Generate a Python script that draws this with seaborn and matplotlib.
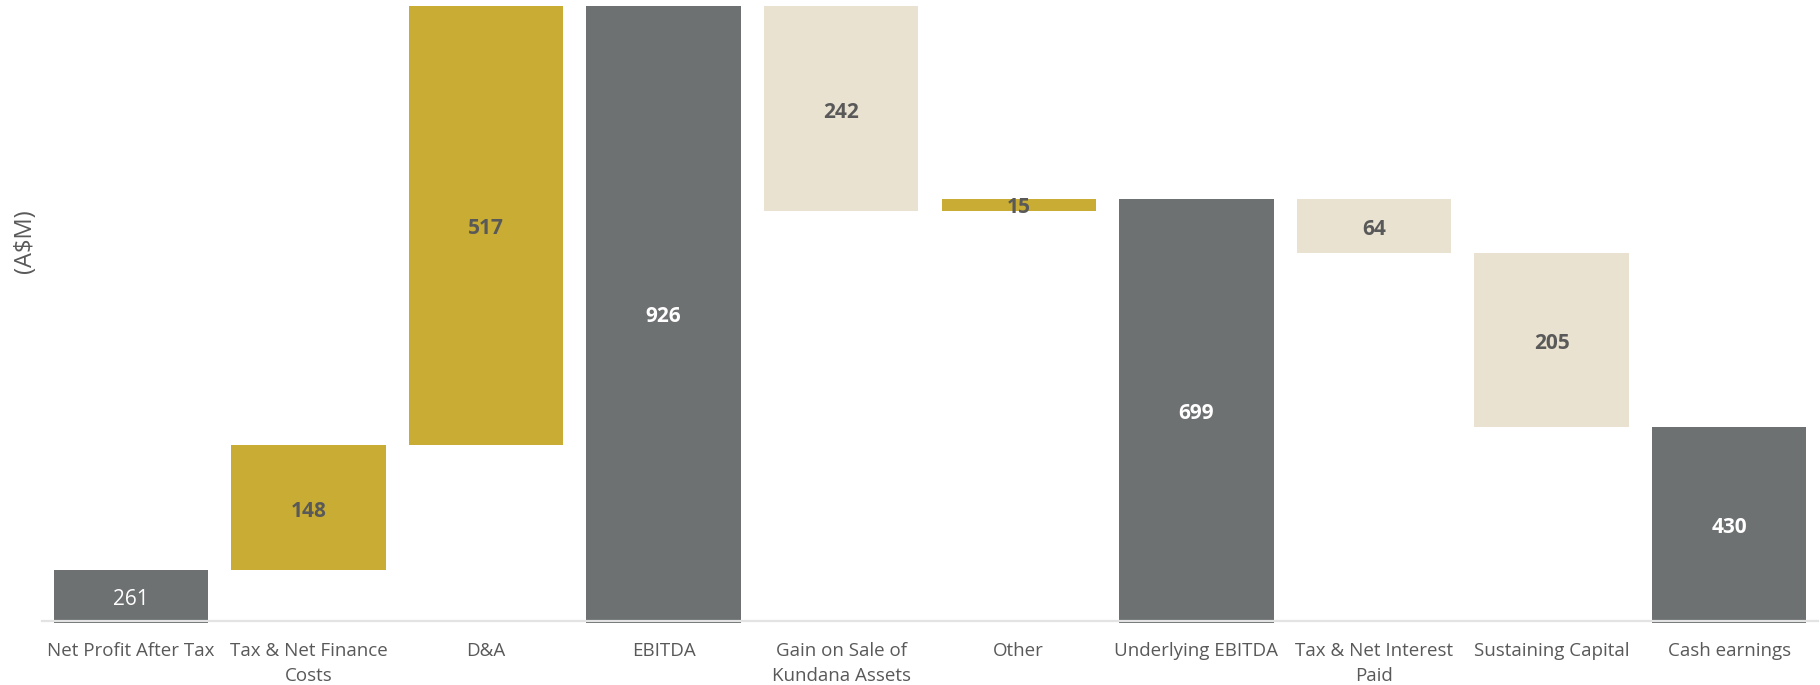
import numpy as np
import pandas as pd
import matplotlib
matplotlib.use("Agg")
import matplotlib.pyplot as plt
import seaborn as sns

categories = ["Net Profit After Tax", "Tax & Net Finance\nCosts", "D&A", "EBITDA",
              "Gain on Sale of\nKundana Assets", "Other", "Underlying EBITDA",
              "Tax & Net Interest\nPaid", "Sustaining Capital", "Cash earnings"]
values = [261, 148, 517, 926, -242, 15, 699, -64, -205, 430]
kinds = ["total", "up", "up", "total", "down", "up", "total", "down", "down", "total"]
labels = ["261", "148", "517", "926", "242", "15", "699", "64", "205", "430"]

GRAY = "#6E7172"
GOLD = "#C8AC33"
BEIGE = "#EAE2D0"
kind_color = {"total": GRAY, "up": GOLD, "down": BEIGE}
text_color = {"total": "white", "up": "#595959", "down": "#595959"}

# waterfall geometry from values
bottoms, tops = [], []
run = 0
for v, k in zip(values, kinds):
    if k == "total":
        bottoms.append(0); tops.append(v); run = v
    else:
        nb = run + v
        bottoms.append(min(run, nb)); tops.append(max(run, nb)); run = nb

df = pd.DataFrame({"cat": categories, "height": np.array(tops) - np.array(bottoms)})

sns.set_theme(style="white")
plt.rcParams["font.family"] = ["Open Sans", "DejaVu Sans"]

fig = plt.figure(figsize=(18.2, 6.85), dpi=100)
ax = fig.add_axes([42 / 1820, 1 - 623 / 685, 1776 / 1820, 623 / 685])

palette = {c: kind_color[k] for c, k in zip(categories, kinds)}
sns.barplot(data=df, x="cat", y="height", hue="cat", palette=palette, legend=False,
            width=0.87, ax=ax, saturation=1, linewidth=0)

for p, b in zip(ax.patches, bottoms):
    p.set_y(b)

BASE = 201.5
ax.set_ylim(199, 933)
ax.set_xlim(-0.5, len(categories) - 0.5)

for i, (b, t, k, lab) in enumerate(zip(bottoms, tops, kinds, labels)):
    yb = max(b, BASE)
    ymid = (yb + t) / 2
    weight = "normal" if i == 0 else "bold"
    dy = -2.5 if i != 5 else -2.0
    ax.annotate(lab, (i, ymid), xytext=(0, dy), textcoords="offset points",
                ha="center", va="center", fontsize=15,
                color=text_color[k], fontweight=weight)

for s in ["top", "right", "left"]:
    ax.spines[s].set_visible(False)
ax.spines["bottom"].set_position(("data", BASE))
ax.spines["bottom"].set_color("#E3E3E3")
ax.spines["bottom"].set_linewidth(1.6)
ax.set_yticks([])
ax.set_xlabel("")
ax.set_ylabel("")
ax.set_xticks(range(len(categories)))
ax.set_xticklabels(categories, fontsize=13.5, color="#595959", linespacing=1.45)
ax.tick_params(axis="x", which="major", length=0, pad=15.5)
ax.set_xticks(np.arange(-0.5, len(categories), 1), minor=True)
ax.tick_params(axis="x", which="minor", direction="in", length=5, width=1.5, color="#E3E3E3")

fig.text(25 / 1820, 1 - 241 / 685, "(A$M)", rotation=90, ha="center", va="center",
         fontsize=17, color="#595959")

fig.savefig("out.png", dpi=100)
